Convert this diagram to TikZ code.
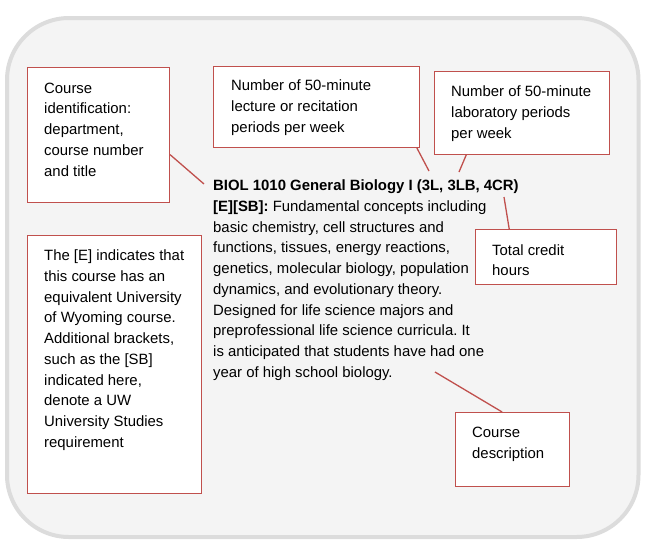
\documentclass[tikz,border=0pt]{standalone}
\usepackage{fontspec}
\setmainfont{Liberation Sans}
\usetikzlibrary{calc}
\frenchspacing
\definecolor{boxred}{HTML}{C0504D}
\definecolor{panelfill}{HTML}{F4F4F4}
\definecolor{panelline}{HTML}{DCDCDC}
\tikzset{
  callout/.style={draw=boxred, line width=1pt, fill=white, inner sep=0pt, anchor=north west},
  txt/.style={font=\fontsize{14.9}{20.75}\selectfont\frenchspacing, align=left, anchor=base west, inner sep=0pt, text=black},
  link/.style={draw=boxred, line width=1.3pt}
}
\begin{document}
\begin{tikzpicture}[x=1pt,y=-1pt]
\useasboundingbox (0,0) rectangle (646,558);
\draw[panelline, fill=panelfill, line width=4pt, rounded corners=62pt] (7,18) rectangle (638.5,537);

\node[callout, minimum width=142pt, minimum height=135pt] (b1) at (27,67) {};
\node[callout, minimum width=206pt, minimum height=81pt] (b2) at (213,66) {};
\node[callout, minimum width=175pt, minimum height=83pt] (b3) at (434,71) {};
\node[callout, minimum width=141pt, minimum height=55pt] (b4) at (475,229) {};
\node[callout, minimum width=174pt, minimum height=258pt] (b5) at (27,235) {};
\node[callout, minimum width=114pt, minimum height=74pt] (b6) at (455,412) {};

% anchor base west = baseline of the last line
\node[txt] (t1) at (44,176) {Course\\identification:\\department,\\course number\\and title};
\node[txt] (t2) at (231,132) {Number of 50-minute\\lecture or recitation\\periods per week};
\node[txt] (t3) at (451,138) {Number of 50-minute\\laboratory periods\\per week};
\node[txt] (t4) at (492,275.75) {Total credit\\hours};
\node[txt] (t5) at (44,447.25) {The [E] indicates that\\this course has an\\equivalent University\\of Wyoming course.\\Additional brackets,\\such as the [SB]\\indicated here,\\denote a UW\\University Studies\\requirement};
\node[txt] (t6) at (472,458.25) {Course\\description};

\node[txt] (main) at (213,377.25) {\textbf{BIOL 1010 General Biology I (3L, 3LB, 4CR)}\\
\textbf{[E][SB]:} Fundamental concepts including\\
basic chemistry, cell structures and\\
functions, tissues, energy reactions,\\
genetics, molecular biology, population\\
dynamics, and evolutionary theory.\\
Designed for life science majors and\\
preprofessional life science curricula. It\\
is anticipated that students have had one\\
year of high school biology.};

\coordinate (e1) at (204,184);
\coordinate (e2) at (429,171);
\coordinate (e3) at (459,172);
\coordinate (e4) at (504,197);
\coordinate (e6) at (435,372);

\draw[link] ($(b1.south east)!0.356!(b1.north east)$) -- (e1);
\draw[link] ($(b2.south west)!0.985!(b2.south east)$) -- (e2);
\draw[link] ($(b3.south west)!0.183!(b3.south east)$) -- (e3);
\draw[link] ($(b4.north west)!0.241!(b4.north east)$) -- (e4);
\draw[link] ($(b6.north west)!0.41!(b6.north east)$) -- (e6);
\end{tikzpicture}
\end{document}
